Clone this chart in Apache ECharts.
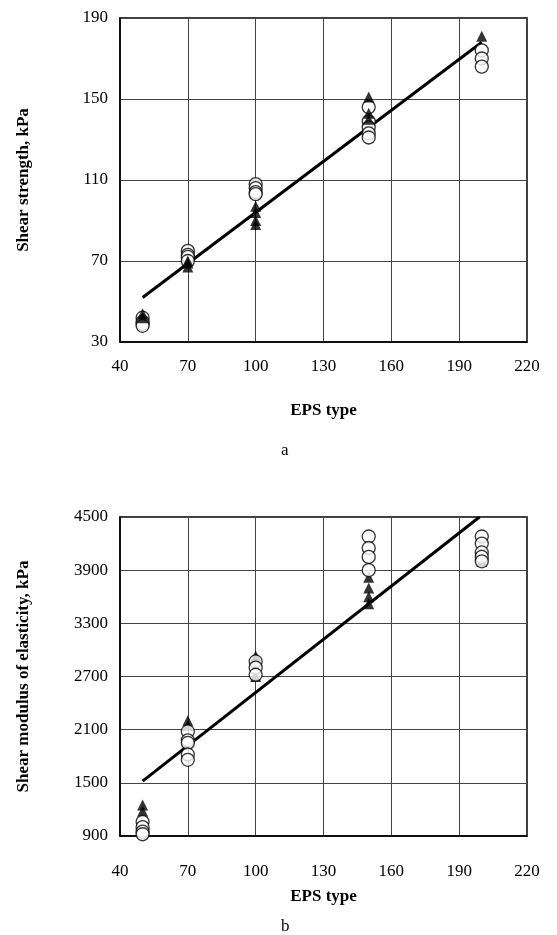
<!DOCTYPE html>
<html><head><meta charset="utf-8">
<script src="https://cdn.jsdelivr.net/npm/echarts@6/dist/echarts.min.js"></script>
<style>html,body{margin:0;padding:0;background:#fff}#c{width:557px;height:935px}</style>
</head><body><div id="c"></div>
<script>
// Chart a: shear strength
const aTriX = [50,50, 70,70,70, 100,100,100,100, 150,150,150, 200];
const aTriY = [44,42, 69,67,70, 97,94,90,88, 151,143,140, 181];
const aCirX = [50,50,50,50, 70,70,70,70, 100,100,100,100, 150,150,150,150,150, 200,200,200];
const aCirY = [42,40,39,38, 75,73,72,70, 108,106,104,103, 146,139,136,133,131, 174,170,166];
const aLineX = [50, 200];
const aLineY = [52, 178];
// Chart b: shear modulus
const bTriX = [50,50, 70,70, 100,100,100, 150,150,150,150, 200];
const bTriY = [1250,1180, 2200,2150, 2930,2900,2700, 3820,3700,3600,3520, 4000];
const bCirX = [50,50,50,50, 70,70,70,70,70, 100,100,100, 150,150,150,150, 200,200,200,200,200];
const bCirY = [1060,1000,950,920, 2080,1980,1950,1820,1760, 2870,2800,2720, 4280,4150,4050,3900, 4280,4200,4100,4050,4000];
const bLineX = [50, 199];
const bLineY = [1520, 4500];
const xTicks = [40,70,100,130,160,190,220];

const zip = (xs, ys) => xs.map((x,i)=>[x, ys[i]]);
const F = 'Liberation Serif';
const lab = {fontFamily:F, fontSize:17, color:'#000'};
const nameSt = {fontFamily:F, fontSize:17, fontWeight:'bold', color:'#000'};
function xAx(gi, margin, gap){ return {gridIndex:gi, type:'value', min:40, max:220, interval:30,
  name:'EPS type', nameLocation:'middle', nameGap:gap, nameTextStyle:nameSt,
  axisLine:{lineStyle:{color:'#000', width:1.5}}, axisTick:{show:false},
  axisLabel:Object.assign({margin:margin, formatter:v=>String(v)}, lab),
  splitLine:{lineStyle:{color:'#444', width:1}}}; }
function yAx(gi, min, max, iv, name){ return {gridIndex:gi, type:'value', min:min, max:max, interval:iv,
  name:name, nameLocation:'middle', nameGap:88, nameTextStyle:nameSt,
  axisLine:{lineStyle:{color:'#000', width:1.5}}, axisTick:{show:false},
  axisLabel:Object.assign({margin:12, formatter:v=>String(v)}, lab),
  splitLine:{lineStyle:{color:'#444', width:1}}}; }

const chart = echarts.init(document.getElementById('c'), null, {renderer:'canvas'});
const cir = {color:'#fff', borderColor:'#000', borderWidth:1.3};
const tri = {color:'#000'};
chart.setOption({
  animation:false,
  backgroundColor:'#fff',
  title:[
    {text:'a', top:437, left:276, textStyle:{fontFamily:F, fontSize:17, fontWeight:'normal', color:'#000'}},
    {text:'b', top:913, left:276, textStyle:{fontFamily:F, fontSize:17, fontWeight:'normal', color:'#000'}}
  ],
  grid:[
    {left:120, top:18, width:407, height:324, show:true, borderColor:'#000', borderWidth:1.5, backgroundColor:'transparent'},
    {left:120, top:517, width:407, height:319, show:true, borderColor:'#000', borderWidth:1.5, backgroundColor:'transparent'}
  ],
  xAxis:[xAx(0, 16, 60), xAx(1, 27, 52)],
  yAxis:[yAx(0,30,190,40,'Shear strength, kPa'), yAx(1,900,4500,600,'Shear modulus of elasticity, kPa')],
  series:[
    {type:'line', xAxisIndex:0, yAxisIndex:0, data:zip(aLineX,aLineY), symbol:'none', lineStyle:{color:'#000', width:3}, z:3},
    {type:'scatter', xAxisIndex:0, yAxisIndex:0, data:zip(aCirX,aCirY), symbol:'circle', symbolSize:13, itemStyle:cir, z:4},
    {type:'scatter', xAxisIndex:0, yAxisIndex:0, data:zip(aTriX,aTriY), symbol:'triangle', symbolSize:11, itemStyle:tri, z:5},
    {type:'line', xAxisIndex:1, yAxisIndex:1, data:zip(bLineX,bLineY), symbol:'none', lineStyle:{color:'#000', width:3}, z:3},
    {type:'scatter', xAxisIndex:1, yAxisIndex:1, data:zip(bTriX,bTriY), symbol:'triangle', symbolSize:11, itemStyle:tri, z:4},
    {type:'scatter', xAxisIndex:1, yAxisIndex:1, data:zip(bCirX,bCirY), symbol:'circle', symbolSize:13, itemStyle:cir, z:5}
  ]
});
</script></body></html>
